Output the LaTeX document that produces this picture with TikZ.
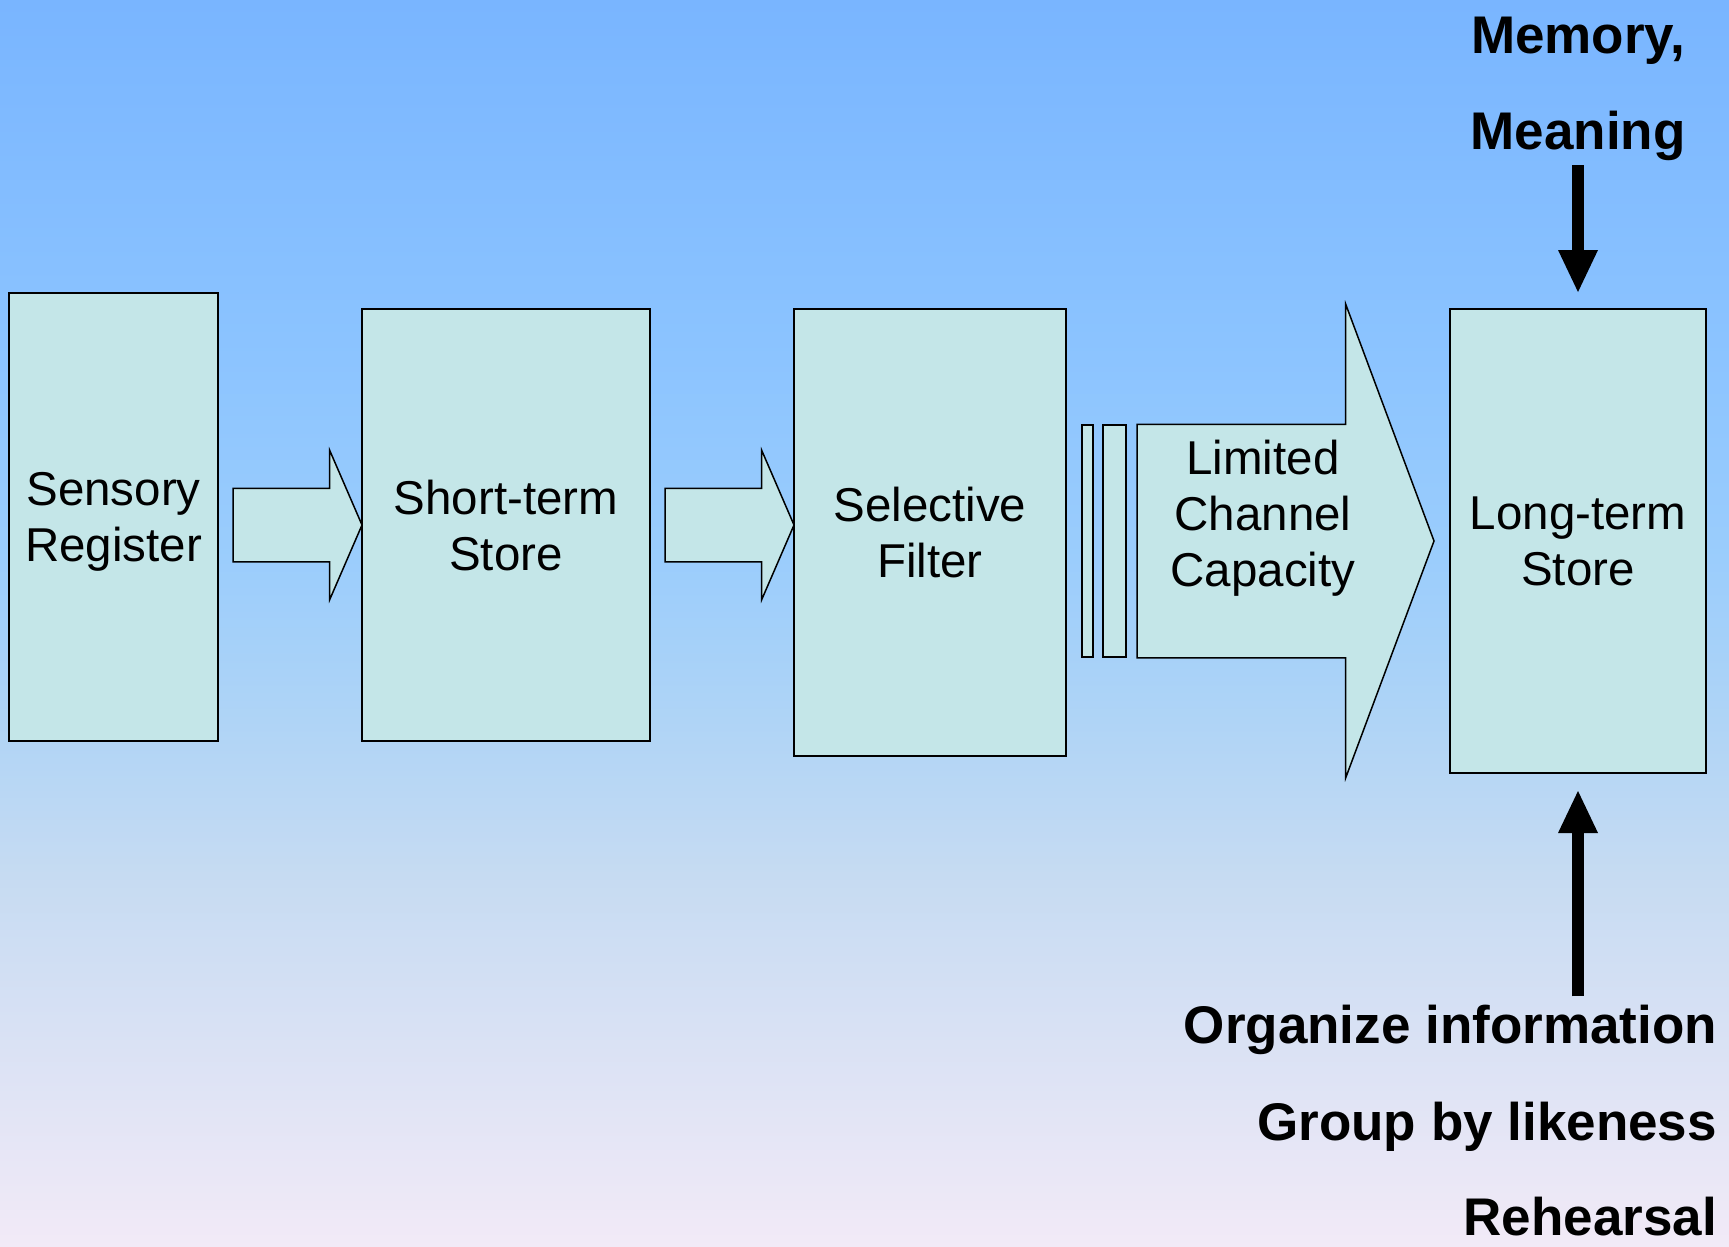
\documentclass[tikz,border=0pt]{standalone}
\usepackage{fontspec}
\setmainfont{Liberation Sans}
\usetikzlibrary{shapes.arrows,arrows.meta}

\definecolor{skyTop}{RGB}{121,181,255}
\definecolor{skyHigh}{RGB}{140,196,255}
\definecolor{skyMid}{RGB}{155,205,252}
\definecolor{skyHaze}{RGB}{175,212,246}
\definecolor{skyLow}{RGB}{198,219,242}
\definecolor{skyBottom}{RGB}{242,234,247}
\definecolor{blockColor}{RGB}{196,230,232}

\pgfdeclareverticalshading{sky}{100bp}{color(0bp)=(skyBottom); color(25bp)=(skyBottom);
  color(39.92bp)=(skyLow); color(46.13bp)=(skyHaze); color(52.55bp)=(skyMid);
  color(60.57bp)=(skyHigh); color(75bp)=(skyTop); color(100bp)=(skyTop)}

\begin{document}
\begin{tikzpicture}[x=1pt,y=-1pt,
    stage/.style={draw,line width=2pt,fill=blockColor,align=center,inner sep=2pt,outer sep=0pt,
      text depth=0pt,font=\fontsize{47.5}{56}\selectfont},
    caption/.style={align=center,inner sep=0pt,font=\fontsize{47.5}{56}\selectfont},
    flow/.style={single arrow,draw,line width=1.5pt,fill=blockColor,inner xsep=0pt,inner ysep=36pt,
      outer sep=0pt,minimum height=129pt,minimum width=148pt,single arrow head extend=38pt,
      single arrow tip angle=133.2,anchor=tip},
    slot/.style={draw,line width=1.5pt,fill=blockColor,minimum height=232pt,inner sep=0pt,outer sep=0pt},
    note/.style={inner sep=0pt,font=\fontsize{53}{64}\selectfont\bfseries},
    push/.style={line width=12pt,-{Triangle[length=42pt,width=40pt,line width=0pt]}}]
  \useasboundingbox (0,0) rectangle (1729,1247);
  \shade[shading=sky] (0,0) rectangle (1729,1247);
  % Stages
  \node[stage,minimum width=209pt,minimum height=448pt] (sensory) at (113.5,517) {Sensory\\Register};
  \node[stage,minimum width=288pt,minimum height=432pt] (shortterm) at (506,525) {Short-term\\Store};
  \node[stage,minimum width=272pt,minimum height=447pt] (selective) at (930,532.5) {Selective\\Filter};
  \node[stage,minimum width=256pt,minimum height=464pt] (longterm) at (1578,541) {Long-term\\Store};
  % Block arrows
  \node[flow] (flow1) at (shortterm.west) {};
  \node[flow] (flow2) at (selective.west |- flow1.tip) {};
  \node[slot,minimum width=11pt] (slot1) at (1087.5,541) {};
  \node[slot,minimum width=23pt] (slot2) at (1114.5,541) {};
  \node[flow,inner ysep=116pt,minimum height=297pt,minimum width=472pt,single arrow head extend=120pt,
    single arrow tip angle=139.1] (channel) at ([xshift=-16pt]longterm.west) {};
  \node[caption] (channeltext) at (1263,518) {Limited\\Channel\\Capacity};
  % Notes
  \node[note,anchor=base] (memory) at (1578,53) {Memory,};
  \node[note,anchor=base] (meaning) at (1578,149) {Meaning};
  \node[note,anchor=base east] (organize) at (1717,1043) {Organize information};
  \node[note,anchor=base east] (group) at (1717,1140) {Group by likeness};
  \node[note,anchor=base east] (rehearsal) at (1717,1235) {Rehearsal};
  \draw[push,shorten <=5pt,shorten >=17pt] (meaning) -- (longterm);
  \draw[push,shorten <=8pt,shorten >=18pt] (organize.north -| longterm.south) -- (longterm.south);
\end{tikzpicture}
\end{document}
